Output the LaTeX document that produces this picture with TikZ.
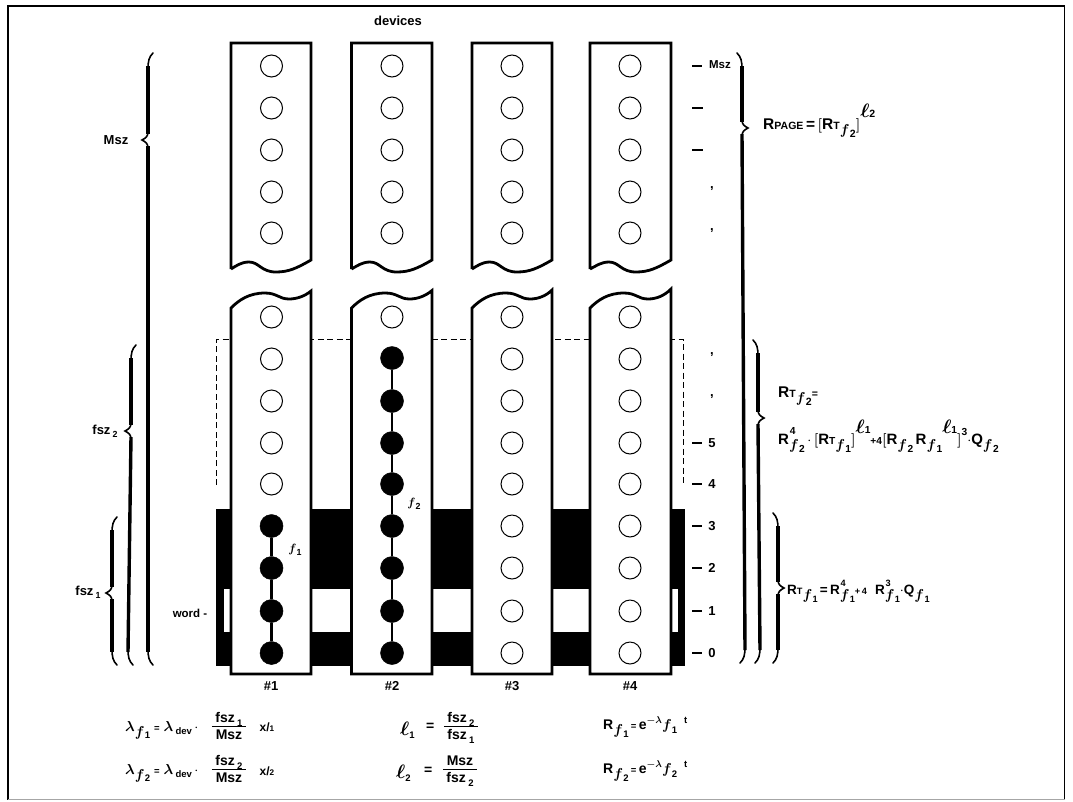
\documentclass[tikz,border=0pt]{standalone}
\usepackage{fontspec}
\setmainfont{Liberation Sans}[BoldFont={Liberation Sans Bold}]
\newcommand{\myb}[1]{{\boldmath$#1$}}
\newcommand{\mysm}[1]{\scalebox{0.68}{#1}}
\newcommand{\myR}{\textbf{R}}
\newcommand{\myRT}{\textbf{R}\mysm{\textbf{T}}}
\newcommand{\myff}[1]{\raisebox{-0.35em}{\myb{f}}\hspace{0.02em}\raisebox{-0.55em}{\mysm{#1}}}
\newcommand{\mysup}[1]{\rlap{\raisebox{0.62em}{\hspace{0.05em}\mysm{#1}}}}
\newcommand{\myexp}[1]{\raisebox{0.72em}{\scalebox{1.35}{\myb{\ell}}\mysm{#1}}}
\newcommand{\mysub}[1]{\raisebox{-0.25em}{\mysm{#1}}}
\newcommand{\myfrac}[2]{\begin{tabular}{@{\hspace{3.5pt}}c@{\hspace{3.5pt}}}#1\\[-1.5pt]\hline\rule{0pt}{13pt}#2\end{tabular}}
\newcommand{\mybrace}[6]{% x, ytop, ybot, ytip, dir, end-x at the bottom
  \draw[braceend] (#1+#5*-5,#2) .. controls (#1+#5*-1,#2+4) and (#1,#2+8) .. (#1,#2+16);
  \draw[bracebody] (#1,#2+13) -- (#1,#4-6);
  \draw[braceend] (#1,#4-8) .. controls (#1,#4-4) and (#1+#5*2,#4-2) .. (#1+#5*6,#4) .. controls (#1+#5*2,#4+2) and (#1,#4+4) .. (#1,#4+8);
  \draw[bracebody] (#1,#4+6) -- (#1+#6,#3-13);
  \draw[braceend] (#1+#6,#3-16) .. controls (#1+#6,#3-8) and (#1+#6+#5*-1,#3-4) .. (#1+#6+#5*-5,#3);
}
\tikzset{
  x=1pt,y=-1pt,
  hole/.style={circle,draw=black,fill=white,line width=1pt,minimum size=22pt,inner sep=0pt},
  full/.style={circle,draw=black,fill=black,line width=0.5pt,minimum size=23pt,inner sep=0pt},
  chain/.style={line width=2.4pt,black},
  strip/.style={draw=black,fill=white,line width=2.8pt,line join=miter},
  band/.style={fill=black,draw=none},
  dashbox/.style={draw=black,line width=0.8pt,dash pattern=on 6pt off 3.5pt},
  braceend/.style={draw=black,line width=1.6pt,line cap=round},
  bracebody/.style={draw=black,line width=3.4pt},
  tick/.style={draw=black,line width=1.5pt},
  lab/.style={font=\bfseries\fontsize{13}{14}\selectfont,inner sep=0pt,anchor=center,text=black},
  bigeq/.style={font=\bfseries\fontsize{15.5}{17}\selectfont,inner sep=0pt,anchor=west,text=black},
  smalleq/.style={font=\bfseries\fontsize{14}{16}\selectfont,inner sep=0pt,anchor=west,text=black},
  fracbox/.style={font=\bfseries\fontsize{14}{16}\selectfont,inner sep=0pt,anchor=center,text=black},
  frameline/.style={draw=black,line width=1.5pt},
}
\begin{document}
\begin{tikzpicture}
\useasboundingbox (0,0) rectangle (1073,801);
\fill[white] (0,0) rectangle (1073,801);
\draw[frameline] (1064.5,799.5) -- (1064.5,6) -- (8,6) -- (8,799.5);
\draw[draw=black!35,line width=1pt] (8,799.5) -- (1064.5,799.5);

% black band and its white window
\fill[band] (216,509) rectangle (685,666);
\fill[white] (224,589) rectangle (678,632);
\draw[dashbox] (216.5,485) -- (216.5,339) -- (683,339) -- (683,485);

% strips
\foreach \xa/\xb/\off in {231/311/0, 351.5/432/0.5, 472/552/1, 590/671/2}{
  \path[strip] (\xa,269) -- (\xa,43) -- (\xb,43) -- (\xb,260)
     .. controls (\xb-14,268) and (\xb-22,272) .. (\xb-35,272)
     .. controls (\xb-50,272) and (\xb-52,262) .. (\xb-62,262)
     .. controls (\xb-70,262) and (\xb-75,266) .. (\xa,269);
  \path[strip] (\xa,308) .. controls (\xa+8,300) and (\xa+18,293) .. (\xa+34,293)
     .. controls (\xa+46,293) and (\xa+48,299) .. (\xa+58,299)
     .. controls (\xa+66,299) and (\xa+74,296) .. (\xb,291-\off)
     -- (\xb,674) -- (\xa,674) -- cycle;
}

% upper memory cells
\foreach \cn/\cx in {1/271.5,2/392,3/512,4/630}{
  \foreach \rn/\ry in {1/66,2/108,3/150,4/192,5/233}{
    \node[hole] (u\cn-\rn) at (\cx,\ry) {};
  }
  \node[hole] (m\cn) at (\cx,317) {};
}
% lower memory cells
\foreach \cn/\cx in {3/512,4/630}{
  \foreach \rn/\ry in {9/359,8/401,7/443,6/484,5/526,4/568,3/611,2/653}{
    \node[hole] (l\cn-\rn) at (\cx,\ry) {};
  }
}
\foreach \rn/\ry in {9/359,8/401,7/443,6/484}{
  \node[hole] (l1-\rn) at (271.5,\ry) {};
}
\foreach \rn/\ry in {5/526,4/568,3/611,2/653}{
  \node[full] (l1-\rn) at (271.5,\ry) {};
}
\foreach \rn/\ry in {9/358,8/401,7/443,6/484,5/526,4/568,3/611,2/653}{
  \node[full] (l2-\rn) at (392,\ry) {};
}
\draw[chain] (l1-5) -- (l1-4);
\draw[chain] (l1-4) -- (l1-3);
\draw[chain] (l1-3) -- (l1-2);
\draw[chain] (l2-9) -- (l2-8);
\draw[chain] (l2-8) -- (l2-7);
\draw[chain] (l2-7) -- (l2-6);
\draw[chain] (l2-6) -- (l2-5);
\draw[chain] (l2-5) -- (l2-4);
\draw[chain] (l2-4) -- (l2-3);
\draw[chain] (l2-3) -- (l2-2);

% titles
\node[lab] (devices) at (398,21) {devices};
\node[lab] (n1) at (271,686) {\#1};
\node[lab] (n2) at (392,686) {\#2};
\node[lab] (n3) at (512,686) {\#3};
\node[lab] (n4) at (630,686) {\#4};
\node[lab] (f1) at (295,550) {\myb{f}\mysub{1}};
\node[lab] (f2) at (414,504) {\myb{f}\mysub{2}};

% address ticks
\foreach \ty/\tl in {443/5,484/4,526/3,568/2,611/1,653/0}{
  \draw[tick] (692,\ty) -- (702,\ty);
  \node[lab] (a\tl) at (712,\ty) {\tl};
}
\draw[tick] (692,66) -- (702,66);
\node[lab,font=\bfseries\fontsize{11.5}{13}\selectfont] (amsz) at (720,65) {Msz};
\draw[tick] (692,108) -- (703,108);
\draw[tick] (692,150) -- (703,150);
\node[lab] (c1) at (712,189) {,};
\node[lab] (c2) at (712,231) {,};
\node[lab] (c3) at (712,355) {,};
\node[lab] (c4) at (712,397) {,};

% left braces
\mybrace{148}{53}{665}{140}{-1}{0}
\mybrace{131}{345}{665}{431}{-1}{-3}
\mybrace{112}{517}{665}{593}{-1}{0}
\node[lab] (msz) at (116,140) {Msz};
\node[lab] (fsz2) at (105,431) {fsz\,\mysub{2}};
\node[lab] (fsz1) at (88,592) {fsz\,\mysub{1}};
\node[lab,font=\bfseries\fontsize{11.5}{13}\selectfont] (word) at (190,613) {word -};

% right braces
\mybrace{742}{53}{663}{128}{1}{3}
\mybrace{758}{340}{663}{418}{1}{2}
\mybrace{778}{513}{663}{588}{1}{0}

% reliability formulas
\node[bigeq] (rpage) at (763,121) {\myR\mysm{PAGE}\,=\,\myb{\Bigl[}\myRT\myff{2}\myb{\Bigr]}\myexp{2}};
\node[bigeq] (rtf2) at (778,396) {\myRT\myff{2}\mysm{=}};
\node[bigeq,font=\bfseries\fontsize{15}{17}\selectfont] (rtf2b) at (778,436) {\myR\mysup{4}\myff{2}\,$\cdot$\,\myb{\Bigl[}\myRT\myff{1}\myb{\Bigr]}\myexp{1}\mysm{+4}\myb{\Bigl[}\myR\myff{2}\,\myR\myff{1}\myexp{1}\myb{\Bigr]}\raisebox{0.6em}{\mysm{3}}$\cdot$\textbf{Q}\myff{2}};
\node[bigeq,font=\bfseries\fontsize{13.5}{16}\selectfont] (rtf1) at (787,591) {\myRT\myff{1}\,=\,\myR\mysup{4}\myff{1}\mysm{+\,4}\hspace{0.6em}\myR\mysup{3}\myff{1}$\cdot$\textbf{Q}\myff{1}};

% definitions
\node[smalleq] (la1) at (125,730) {\myb{\lambda}\myff{1}\ \mysm{=}\ \myb{\lambda}\,\mysub{dev}\,$\cdot$};
\node[fracbox] (fr1) at (229,728) {\myfrac{fsz\,\mysub{1}}{Msz}};
\node[lab,font=\bfseries\fontsize{12}{13}\selectfont] (x1) at (267,727) {x/\mysm{1}};
\node[smalleq] (la2) at (125,773) {\myb{\lambda}\myff{2}\ \mysm{=}\ \myb{\lambda}\,\mysub{dev}\,$\cdot$};
\node[fracbox] (fr2) at (229,771) {\myfrac{fsz\,\mysub{2}}{Msz}};
\node[lab,font=\bfseries\fontsize{12}{13}\selectfont] (x2) at (267,771) {x/\mysm{2}};
\node[smalleq] (e1) at (400,730) {\scalebox{1.35}{\myb{\ell}}\mysub{1}};
\node[smalleq] (eq1) at (426,727) {=};
\node[fracbox] (fr3) at (461,728) {\myfrac{fsz\,\mysub{2}}{fsz\,\mysub{1}}};
\node[smalleq] (e2) at (396,773) {\scalebox{1.35}{\myb{\ell}}\mysub{2}};
\node[smalleq] (eq2) at (424,771) {=};
\node[fracbox] (fr4) at (460,771) {\myfrac{Msz}{fsz\,\mysub{2}}};
\node[smalleq] (r1) at (603,727) {\myR\myff{1}\,\mysm{=}\,\textbf{e}\raisebox{0.45em}{\mysm{\myb{-\lambda}}}\myb{f}\mysub{1}\hspace{0.5em}\raisebox{0.45em}{\mysm{t}}};
\node[smalleq] (r2) at (603,771) {\myR\myff{2}\,\mysm{=}\,\textbf{e}\raisebox{0.45em}{\mysm{\myb{-\lambda}}}\myb{f}\mysub{2}\hspace{0.5em}\raisebox{0.45em}{\mysm{t}}};
\end{tikzpicture}
\end{document}
